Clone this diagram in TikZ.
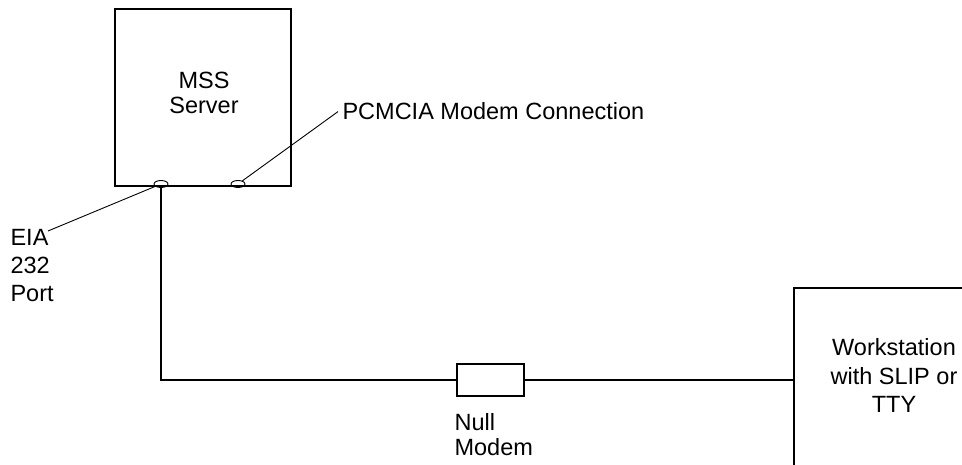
\documentclass[tikz,border=0pt]{standalone}
\usepackage{fontspec}
\setmainfont{Liberation Sans}
\usetikzlibrary{shapes.geometric}
\begin{document}
\begin{tikzpicture}[x=1pt,y=-1pt,line width=1.1pt,
    box/.style={draw,rectangle,inner sep=0pt},
    port/.style={draw,ellipse,inner sep=0pt,minimum width=14pt,minimum height=7pt,line width=0.9pt},
    lbl/.style={inner sep=0pt,font=\fontsize{23.5}{28}\selectfont}]
        \useasboundingbox (0,0) rectangle (962,465);
        % server with its two ports
        \node[box,minimum width=176pt,minimum height=177pt] (mss) at (203,97.5) {};
        \node[lbl,align=center,anchor=north,font=\fontsize{23.5}{25}\selectfont] (msstxt) at (204,72) {MSS\\Server};
        \node[port] (eia) at (161,184) {};
        \node[port] (pcm) at (238,184) {};

        \node[lbl,align=left,anchor=north west] (eiatxt) at (10,229) {EIA\\232\\Port};
        \node[lbl,anchor=base west] (pcmtxt) at (342,120) {PCMCIA Modem Connection};
        \coordinate (eiatip) at (48,231);
        \draw[line width=0.9pt] (eia) -- (eiatip);
        \draw[line width=0.9pt] (pcm) -- ([xshift=-4pt]pcmtxt.west);

        % workstation, open to the right and below
        \draw (962,288) -- (794,288) -- (794,465);
        \coordinate (ws) at (794,380);
        \node[lbl,align=center,anchor=north,font=\fontsize{23.5}{28.5}\selectfont] (wstxt) at (894,338) {Workstation\\with SLIP or\\TTY};

        % cable with the null modem
        \node[box,minimum width=67pt,minimum height=32pt] (null) at (490.5,380) {};
        \node[lbl,align=left,anchor=north west,font=\fontsize{23.5}{25}\selectfont] (nulltxt) at (454,413) {Null\\Modem};
        \draw (eia.south) |- (null.west);
        \draw (null.east) -- (ws);
\end{tikzpicture}
\end{document}
